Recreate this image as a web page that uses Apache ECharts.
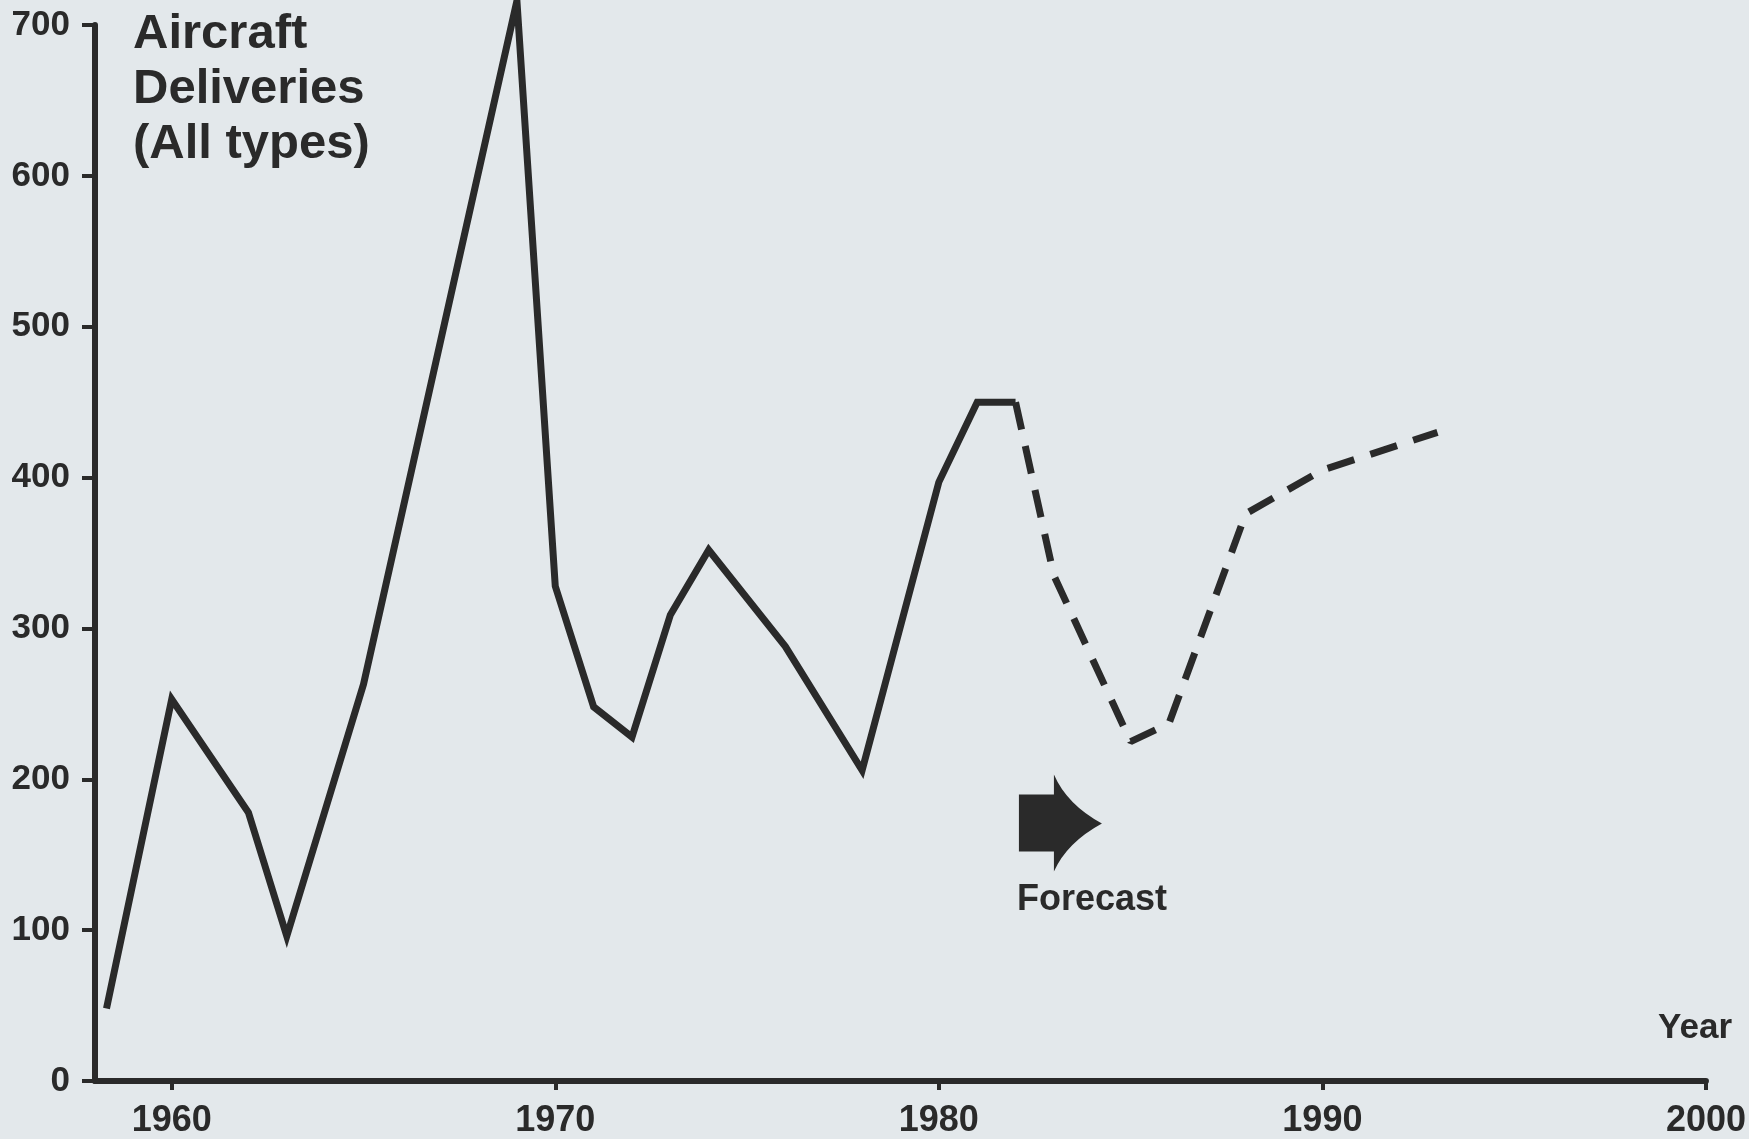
<!DOCTYPE html>
<html>
<head>
<meta charset="utf-8">
<script src="https://cdn.jsdelivr.net/npm/echarts@6/dist/echarts.min.js"></script>
<style>
  html, body { margin: 0; padding: 0; background: #e3e8eb; }
  #chart { width: 1749px; height: 1139px; }
</style>
</head>
<body>
<div id="chart"></div>
<script>
// deliveries up to 1982
const actualYears = [1958.3, 1960, 1962, 1963, 1965, 1969, 1970, 1971, 1972, 1973, 1974, 1976, 1978, 1980, 1981, 1982]
const actualValues = [48, 253, 178, 96, 263, 716, 328, 248, 228, 309, 352, 288, 206, 397, 450, 450]
// forecast from 1982
const forecastYears = [1982, 1983, 1985, 1986, 1988, 1990, 1993]
const forecastValues = [450, 335, 225, 237, 376, 405, 430]
const yearTicks = [1960, 1970, 1980, 1990, 2000]

const ink = '#2a2a2a'
const font = 'Liberation Sans, Arial, sans-serif'

const pair = (xs, ys) => xs.map((x, i) => [x, ys[i]])

const chart = echarts.init(document.getElementById('chart'))
chart.setOption({
  animation: false,
  backgroundColor: '#e3e8eb',
  title: [
    {
      text: 'Aircraft\nDeliveries\n(All types)',
      left: 133,
      top: 7,
      padding: 0,
      textStyle: { fontFamily: font, fontSize: 49, fontWeight: 'bold', color: ink, lineHeight: 55 }
    },
    {
      text: 'Year',
      right: 17,
      top: 1011,
      padding: 0,
      textStyle: { fontFamily: font, fontSize: 35, fontWeight: 'bold', color: ink }
    }
  ],
  grid: { left: 95, right: 41, top: 25, bottom: 58 },
  xAxis: {
    type: 'value',
    min: 1958,
    max: 2000,
    splitLine: { show: false },
    axisLine: { lineStyle: { color: ink, width: 6 } },
    axisTick: { customValues: yearTicks, length: 9, lineStyle: { color: ink, width: 4 } },
    axisLabel: {
      customValues: yearTicks,
      formatter: v => String(v),
      margin: 22,
      fontFamily: font, fontSize: 36, fontWeight: 'bold', color: ink
    }
  },
  yAxis: {
    type: 'value',
    min: 0,
    max: 700,
    interval: 100,
    splitLine: { show: false },
    axisLine: { show: true, lineStyle: { color: ink, width: 6 } },
    axisTick: { show: true, length: 13, lineStyle: { color: ink, width: 4 } },
    axisLabel: { margin: 25, fontFamily: font, fontSize: 35, fontWeight: 'bold', color: ink }
  },
  series: [
    {
      type: 'line',
      data: pair(actualYears, actualValues),
      showSymbol: false,
      clip: false,
      lineStyle: { color: ink, width: 7, join: 'miter' }
    },
    {
      type: 'line',
      data: pair(forecastYears, forecastValues),
      showSymbol: false,
      clip: false,
      lineStyle: { color: ink, width: 7, type: [28, 17] },
      markPoint: {
        symbol: 'path://M0,20 L35,20 L35,0 Q48,30 83,49 Q48,68 35,97 L35,77 L0,77 Z',
        symbolSize: [83, 97],
        itemStyle: { color: ink },
        data: [{ coord: [1983.17, 171] }],
        label: {
          show: true,
          formatter: 'Forecast',
          position: [-2, 108],
          fontFamily: font, fontSize: 36, fontWeight: 'bold', color: ink
        }
      }
    }
  ]
})
</script>
</body>
</html>
